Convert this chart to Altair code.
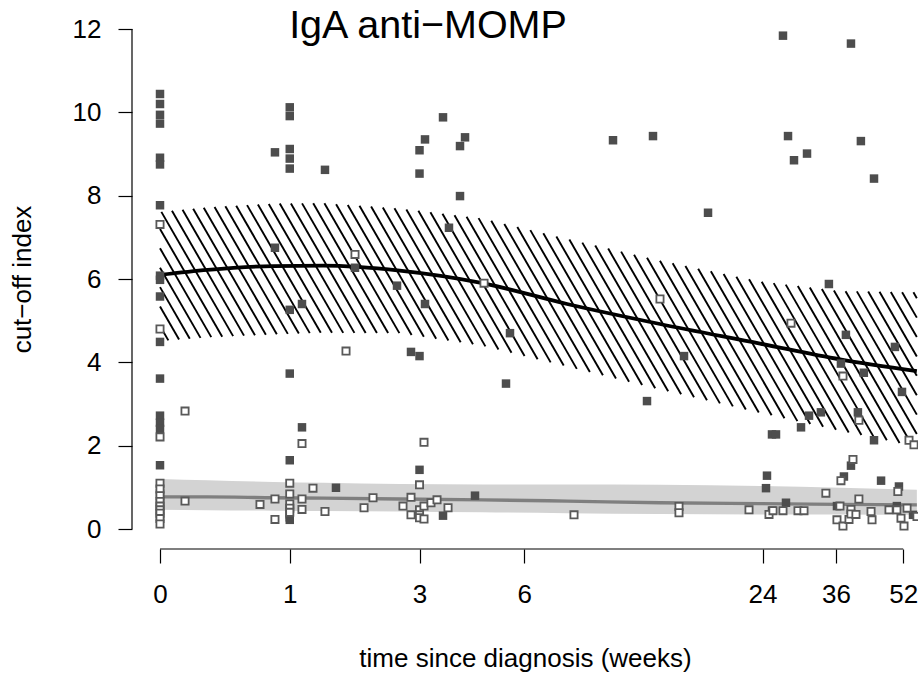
import numpy as np
import pandas as pd
import altair as alt

# ---------------- data ----------------
x_ticks = [0, 1, 3, 6, 24, 36, 52]
y_ticks = [0, 2, 4, 6, 8, 10, 12]

# filled squares (weeks, cut-off index)
filled_x = [0, 0, 0, 0, 0, 0, 0, 0, 0, 0, 0, 0, 0, 0, 0, 0, 0, 0, 0, 0,
            0.848, 0.848,
            1, 1, 1, 1, 1, 1, 1, 1, 1, 1, 1,
            1.414, 1.834, 2.547, 1.135, 1.135, 1.56,
            3, 3, 3, 3, 2.822, 3.119, 3.119, 3.535, 3.535, 3.966, 3.966,
            4.101, 3.682, 4.38, 5.486, 5.349,
            10.245, 12.923, 12.484, 15.432, 17.681,
            26.88, 39.09, 27.64, 41.27, 30.70, 28.57, 44.34, 34.63, 38.02,
            49.70, 37.00, 41.94, 51.65, 31.04, 33.14, 29.70, 25.29, 25.86,
            40.60, 44.34, 39.09, 37.61, 46.08, 24.597, 24.463, 50.80, 27.33,
            25.29, 36.20, 50.23, 54.84]
filled_y = [10.44, 10.20, 9.94, 9.73, 8.91, 8.75, 7.77, 6.08, 5.98, 5.58,
            4.49, 3.61, 2.72, 2.55, 2.40, 1.53, 0.85, 0.60, 0.45, 0.30,
            9.04, 6.75,
            10.12, 9.91, 9.12, 8.89, 8.65, 5.26, 3.73, 1.65, 0.35, 0.28, 0.22,
            8.62, 6.27, 5.84, 5.40, 2.44, 0.99,
            9.09, 8.53, 4.15, 1.42, 4.25, 9.35, 5.40, 9.88, 0.32, 9.19, 7.99,
            9.40, 7.23, 0.80, 4.70, 3.49,
            9.33, 9.43, 3.07, 4.15, 7.59,
            11.84, 11.65, 9.43, 9.31, 9.01, 8.85, 8.41, 5.88, 4.66,
            4.37, 3.97, 3.75, 3.29, 2.72, 2.80, 2.44, 2.27, 2.27,
            2.80, 2.13, 1.52, 1.26, 1.16, 1.28, 0.98, 1.02, 0.63,
            0.44, 0.55, 0.55, 0.34]

# open squares (weeks, cut-off index)
open_x = [0, 0, 0, 0, 0, 0, 0, 0, 0, 0, 0, 0,
          0.143, 0.143, 0.706, 0.848, 0.848,
          1, 1, 1, 1, 1, 1.135, 1.135, 1.135, 1.264, 1.414, 1.701, 1.834,
          1.974, 2.12, 2.662, 2.822, 2.822, 3, 3, 3, 3, 3.097, 3.097, 3.097,
          3.253, 3.392, 3.658, 4.646, 8.13, 13.453, 14.997, 14.997,
          22.253, 24.875, 25.43, 26.88, 28.10, 29.21, 30.19, 34.06, 36.80,
          36.20, 37.41, 37.00, 37.41, 38.67, 39.09, 39.09, 39.52, 40.17,
          40.82, 40.82, 43.63, 43.86, 48.12, 50.23, 50.50, 51.37, 52.22,
          53.09, 53.66, 55.14, 56.04]
open_y = [7.31, 4.80, 2.21, 1.10, 0.96, 0.80, 0.66, 0.55, 0.46, 0.38, 0.25, 0.12,
          2.83, 0.67, 0.59, 0.72, 0.23,
          1.10, 0.84, 0.60, 0.50, 0.40, 2.05, 0.72, 0.47, 0.98, 0.42, 4.27, 6.59,
          0.51, 0.75, 0.55, 0.76, 0.34, 1.06, 0.46, 0.34, 0.27, 2.08, 0.55, 0.24,
          0.63, 0.70, 0.51, 5.90, 0.34, 5.52, 0.54, 0.39,
          0.46, 0.35, 0.44, 0.44, 4.94, 0.44, 0.44, 0.86, 0.55,
          0.22, 0.07, 1.16, 3.67, 0.23, 0.47, 0.36, 1.67, 0.35,
          2.61, 0.72, 0.42, 0.22, 0.46, 0.46, 0.90, 0.26, 0.07,
          0.50, 2.13, 2.02, 0.30]

# fitted curves and confidence bands
grid_weeks = [0, 0.29, 0.83, 1.39, 2.6, 4.6, 7.8, 13.45, 23.66, 36.8, 56]
fit_black = [6.10, 6.22, 6.31, 6.32, 6.20, 5.90, 5.40, 4.92, 4.45, 4.07, 3.79]
band_black_hi = [7.61, 7.72, 7.81, 7.82, 7.69, 7.45, 6.96, 6.44, 5.94, 5.71, 5.68]
band_black_lo = [4.51, 4.60, 4.67, 4.71, 4.70, 4.40, 3.90, 3.35, 2.79, 2.36, 1.98]
fit_grey = [0.77, 0.77, 0.75, 0.74, 0.72, 0.70, 0.67, 0.63, 0.61, 0.59, 0.58]
band_grey_hi = [1.20, 1.17, 1.13, 1.11, 1.08, 1.07, 1.07, 1.06, 1.03, 0.99, 0.94]
band_grey_lo = [0.46, 0.45, 0.44, 0.43, 0.42, 0.40, 0.38, 0.36, 0.35, 0.35, 0.34]

# ---------------- layout / scales ----------------
W, H = 786, 540
XDOM = [-0.1614, 56.35]
YDOM = [-0.48, 12.48]
FONT = "Liberation Sans"

xscale = alt.Scale(type="symlog", constant=1, domain=XDOM, nice=False, zero=False)
yscale = alt.Scale(domain=YDOM, nice=False, zero=False)

axis_style = dict(labelFont=FONT, titleFont=FONT, labelFontSize=26, titleFontSize=26,
                  titleFontWeight="normal", labelFontWeight="normal",
                  labelColor="black", titleColor="black", tickColor="black",
                  tickWidth=1.2, tickSize=14, grid=False, domain=False)
xaxis = alt.Axis(values=x_ticks, title="time since diagnosis (weeks)",
                 labelPadding=18, titlePadding=38, **axis_style)
yaxis = alt.Axis(values=y_ticks, title="cut\u2212off index", labelAngle=0,
                 labelPadding=17, titlePadding=37, **axis_style)


def X(field, **kw):
    return alt.X(field, type="quantitative", scale=xscale, axis=xaxis, **kw)


def Y(field, **kw):
    return alt.Y(field, type="quantitative", scale=yscale, axis=yaxis, **kw)


# ---------------- hatch lines for the black band ----------------
def f(w):
    return np.sign(w) * np.log1p(np.abs(w))


def to_px(w):
    return (f(w) - f(XDOM[0])) / (f(XDOM[1]) - f(XDOM[0])) * W


def from_px(p):
    t = f(XDOM[0]) + p / W * (f(XDOM[1]) - f(XDOM[0]))
    return np.sign(t) * np.expm1(np.abs(t))


def to_py(v):
    return (YDOM[1] - v) / (YDOM[1] - YDOM[0]) * H


def from_py(p):
    return YDOM[1] - p / H * (YDOM[1] - YDOM[0])


gx = to_px(np.array(grid_weeks, dtype=float))
gtop = to_py(np.array(band_black_hi))
gbot = to_py(np.array(band_black_lo))
xs = np.arange(gx[0], min(gx[-1], W), 0.05)
top_i = np.interp(xs, gx, gtop)
bot_i = np.interp(xs, gx, gbot)
slope = np.tan(np.radians(60))
spacing = 11.2
hx, hy, hx2, hy2 = [], [], [], []
for c in np.arange(-H / slope - spacing, W + spacing, spacing):
    ly = slope * (xs - c)
    inside = (ly >= top_i) & (ly <= bot_i)
    if inside.any():
        idx = np.where(inside)[0]
        x0, x1 = xs[idx[0]], xs[idx[-1]]
        hx.append(from_px(x0)); hy.append(from_py(slope * (x0 - c)))
        hx2.append(from_px(x1)); hy2.append(from_py(slope * (x1 - c)))
hatch = pd.DataFrame({"hx": hx, "hy": hy, "hx2": hx2, "hy2": hy2})

curves = pd.DataFrame({"w": grid_weeks, "fit_black": fit_black,
                       "fit_grey": fit_grey, "ghi": band_grey_hi, "glo": band_grey_lo})
pts_f = pd.DataFrame({"w": filled_x, "v": filled_y})
pts_o = pd.DataFrame({"w": open_x, "v": open_y})
xline = pd.DataFrame({"a": [x_ticks[0]], "b": [x_ticks[-1]]})
yline = pd.DataFrame({"a": [y_ticks[0]], "b": [y_ticks[-1]]})

grey_band = alt.Chart(curves).mark_area(color="#d3d3d3", opacity=1, interpolate="monotone").encode(
    x=X("w"), y=Y("glo"), y2="ghi")
hatch_lines = alt.Chart(hatch).mark_rule(color="black", strokeWidth=1.9).encode(
    x=X("hx"), y=Y("hy"), x2="hx2", y2="hy2")
black_line = alt.Chart(curves).mark_line(color="black", strokeWidth=3.8, interpolate="monotone").encode(
    x=X("w"), y=Y("fit_black"))
grey_line = alt.Chart(curves).mark_line(color="#7f7f7f", strokeWidth=3.4, interpolate="monotone").encode(
    x=X("w"), y=Y("fit_grey"))
filled_pts = alt.Chart(pts_f).mark_square(color="#4d4d4d", size=72, opacity=1).encode(
    x=X("w"), y=Y("v"))
open_pts = alt.Chart(pts_o).mark_square(fill="white", stroke="#595959", strokeWidth=1.8,
                                        size=52, opacity=1, fillOpacity=1).encode(
    x=X("w"), y=Y("v"))
x_axis_line = alt.Chart(xline).mark_rule(color="black", strokeWidth=1.2).encode(
    x=X("a"), x2="b", y=alt.value(H))
y_axis_line = alt.Chart(yline).mark_rule(color="black", strokeWidth=1.2).encode(
    y=Y("a"), y2="b", x=alt.value(0))

chart = alt.layer(
    grey_band, hatch_lines, black_line, grey_line, filled_pts, open_pts,
    x_axis_line, y_axis_line
).properties(
    width=W, height=H,
    autosize="none",
    background="white",
    padding={"left": 132, "top": 9, "right": 0, "bottom": 129},
    title=alt.TitleParams(text="IgA anti\u2212MOMP", font=FONT, fontSize=39.5,
                          fontWeight="normal", color="black", anchor="middle",
                          baseline="alphabetic", offset=0, dx=-97, dy=68),
).configure_view(strokeWidth=0)

chart.save("out.html", embed_options={"renderer": "svg", "actions": False})
